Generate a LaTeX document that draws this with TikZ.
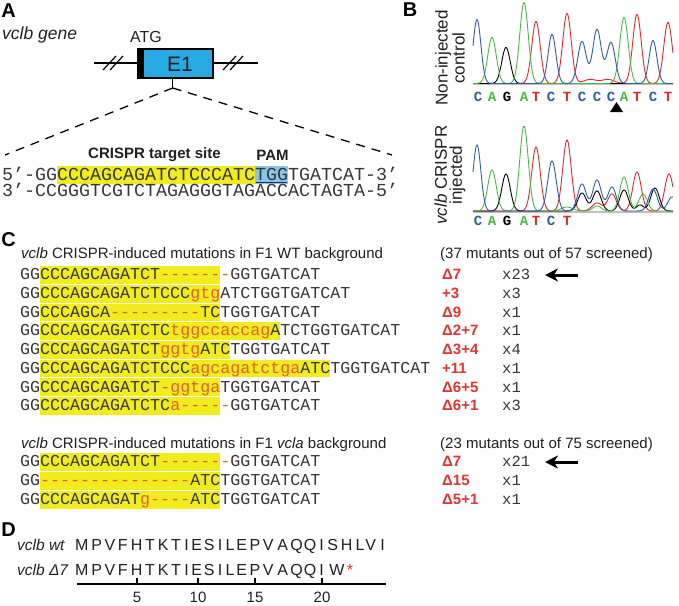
\documentclass[tikz,border=0pt]{standalone}
\usepackage{fontspec}
\setmainfont{Liberation Sans}
\newfontfamily\monofam{Liberation Mono}
\usetikzlibrary{arrows.meta}
\definecolor{hlyellow}{RGB}{240,236,30}
\definecolor{pamblue}{RGB}{140,196,232}
\definecolor{pamline}{RGB}{30,45,80}
\definecolor{exonblue}{RGB}{38,170,225}
\definecolor{seqgray}{RGB}{55,55,55}
\definecolor{txtgray}{RGB}{35,31,32}
\definecolor{insred}{RGB}{232,95,45}
\definecolor{labred}{RGB}{226,52,48}
\definecolor{trblue}{RGB}{50,90,170}
\definecolor{trgreen}{RGB}{75,185,70}
\definecolor{trred}{RGB}{225,40,40}
\newcommand\rd[1]{\textcolor{insred}{#1}}
\newcommand\hy{-\kern0pt }
\begin{document}
\begin{tikzpicture}[x=1pt,y=-1pt,
  declare function={gp(\pa,\pc,\pw)=exp(-min(((\pa-\pc)/\pw)^2,9));},
  panel/.style={font=\fontsize{20}{20}\selectfont\bfseries, text=black, inner sep=0pt},
  seqtxt/.style={font=\monofam\fontsize{16.67}{18}\selectfont, text=seqgray, inner sep=0pt, anchor=base west},
  seqA/.style={font=\monofam\fontsize{18.33}{20}\selectfont, text=seqgray, inner sep=0pt, anchor=base west, text height=10pt, text depth=0pt},
  hdr/.style={font=\fontsize{15}{18}\selectfont, text=txtgray, inner sep=0pt, anchor=base west},
  mut/.style={font=\fontsize{15}{18}\selectfont\bfseries, text=labred, inner sep=0pt, anchor=base west},
  cnt/.style={font=\monofam\fontsize{15.5}{18}\selectfont, text=seqgray, inner sep=0pt, anchor=base west},
  bigarrow/.style={line width=3pt, -{Stealth[length=13pt,width=13pt]}},
  trace/.style={line width=0.9pt},
  chrom/.style={font=\monofam\fontsize{14}{16}\selectfont\bfseries, inner sep=0pt, anchor=base},
  sidelab/.style={font=\fontsize{17}{15}\selectfont, text=txtgray, rotate=90, align=center, inner sep=0pt},
  aa/.style={font=\fontsize{16}{18}\selectfont, text=txtgray, inner sep=0pt, anchor=base},
  dlab/.style={font=\fontsize{15.5}{18}\selectfont\itshape, text=txtgray, inner sep=0pt, anchor=base west},
  guide/.style={line width=1.3pt, dash pattern=on 9pt off 7pt}
]
\useasboundingbox (0,0) rectangle (679,605);
\fill[white] (0,0) rectangle (679,605);

% ---------------- Panel A ----------------
\node[panel] (labA) at (8.5,11) {A};
\node[font=\fontsize{17.5}{20}\selectfont\itshape, text=txtgray, anchor=west, inner sep=0pt] (gene) at (2,35) {vclb gene};
\node[font=\fontsize{16}{18}\selectfont, text=txtgray, inner sep=0pt] (atg) at (146,37) {ATG};
\coordinate (gl) at (94,63);
\coordinate (gr) at (258,63);
\draw[line width=1.3pt] (gl) -- (gr);
\draw[line width=1.2pt] (103,70)--(116,56) (110,70)--(123,56);
\draw[line width=1.2pt] (223,70)--(236,56) (230,70)--(243,56);
\node[fill=exonblue, minimum width=75pt, minimum height=29pt, inner sep=0pt] (e1) at (175.5,63.5) {};
\fill (e1.north west) rectangle ([xshift=6.5pt]e1.south west);
\draw[line width=1.5pt] (e1.north west) rectangle (e1.south east);
\node[font=\fontsize{21}{24}\selectfont, text=txtgray, inner sep=0pt] (e1lab) at (180,64) {E1};
\coordinate (fork) at (172.7,88);
\coordinate (dl) at (5,155);
\coordinate (dr) at (392,155);
\draw[line width=1.3pt] (fork |- e1.south) -- (fork);
\draw[guide] (fork) -- (dl);
\draw[guide] (fork) -- (dr);
\node[font=\fontsize{15}{18}\selectfont\bfseries, text=txtgray, inner sep=0pt] (tsite) at (154.5,155) {CRISPR target site};
\node[font=\fontsize{15}{18}\selectfont\bfseries, text=txtgray, inner sep=0pt] (pam) at (272.5,155) {PAM};
\fill[hlyellow] (57,166) rectangle (255,184);
\fill[pamblue] (255,166) rectangle (288,184);
\draw[pamline, line width=1.5pt] (256,182.3) -- (287,182.3);
\node[seqA] (s5) at (2,180.5) {5’\hy GGCCCAGCAGATCTCCCATCTGGTGATCAT\hy 3’};
\node[seqA] (s3) at (2,196) {3’\hy CCGGGTCGTCTAGAGGGTAGACCACTAGTA\hy 5’};

% ---------------- Panel B ----------------
\node[panel] (labB) at (410,10) {B};
\node[sidelab] (sl1) at (450,58) {Non-injected\\control};
\node[sidelab] (sl2) at (450,175) {\textit{vclb} CRISPR\\injected};
\draw[black!25, line width=1.5pt] (473,84.5) -- (673,84.5);
\draw[black!25, line width=1.5pt] (473,212) -- (673,212);
% top trace
\draw[trace, trred] plot[domain=473:673, samples=301] (\x, {83.5-(62*gp(\x,536,6)+70*gp(\x,567,6)+69*gp(\x,637,6)+61*gp(\x,668,6)+4*gp(\x,590,9)+4*gp(\x,608,9))});
\draw[trace, black] plot[domain=473:673, samples=301] (\x, {83.5-(36*gp(\x,506,6))});
\draw[trace, trgreen] plot[domain=473:673, samples=301] (\x, {83.5-(46*gp(\x,492,6)+81*gp(\x,524,6)+66*gp(\x,624,6))});
\draw[trace, trblue] plot[domain=473:673, samples=301] (\x, {83.5-(64*gp(\x,477,5.5)+49*gp(\x,552,5.5)+42*gp(\x,582,6)+54*gp(\x,597,6)+41*gp(\x,611,6)+43*gp(\x,653,5.5))});
% bottom trace
\draw[trace, trred] plot[domain=473:673, samples=301] (\x, {211-(64*gp(\x,536,6)+71*gp(\x,567,6)+8*gp(\x,597,7)+17*gp(\x,612,6)+39*gp(\x,637,6)+37*gp(\x,669,6))});
\draw[trace, black] plot[domain=473:673, samples=301] (\x, {211-(37*gp(\x,506,6)+18*gp(\x,582,6)+20*gp(\x,597,6)+6*gp(\x,640,5)+21*gp(\x,624,6)+23*gp(\x,655,6))});
\draw[trace, trgreen] plot[domain=473:673, samples=301] (\x, {211-(41*gp(\x,492,6)+85*gp(\x,524,6)+4*gp(\x,567,8)+5*gp(\x,597,6)+34*gp(\x,624,6)+17*gp(\x,643,6))});
\draw[trace, trblue] plot[domain=473:673, samples=301] (\x, {211-(66*gp(\x,477,5.5)+50*gp(\x,552,6)+27*gp(\x,582,6)+31*gp(\x,597,6)+24*gp(\x,612,6)+22*gp(\x,653,6)+14*gp(\x,672,6))});
\foreach \xx/\ll/\cc [count=\i] in {478/C/trblue,492/A/trgreen,507/G/black,524/A/trgreen,536/T/trred,551/C/trblue,567/T/trred,582/C/trblue,597/C/trblue,611/C/trblue,624/A/trgreen,637/T/trred,653/C/trblue,668/T/trred}
  \node[chrom, text=\cc] (tb\i) at (\xx,101) {\ll};
\foreach \xx/\ll/\cc [count=\i] in {478/C/trblue,492/A/trgreen,507/G/black,524/A/trgreen,536/T/trred,551/C/trblue,567/T/trred}
  \node[chrom, text=\cc] (bb\i) at (\xx,225) {\ll};
\fill (610,112) -- (623,112) -- (616.5,102) -- cycle;

% ---------------- Panel C ----------------
\node[panel] (labC) at (8.5,240) {C};
\node[hdr] (h1) at (21,258.5) {\textit{vclb} CRISPR-induced mutations in F1 WT background};
\node[hdr] (n1) at (440,258.5) {(37 mutants out of 57 screened)};
\fill[hlyellow] (40,266.1) rectangle (220,283.9);
\fill[hlyellow] (40,284.8) rectangle (220,302.6);
\fill[hlyellow] (40,303.5) rectangle (220,321.3);
\fill[hlyellow] (40,322.2) rectangle (280,340.0);
\fill[hlyellow] (40,340.9) rectangle (230,358.7);
\fill[hlyellow] (40,359.6) rectangle (330,377.4);
\fill[hlyellow] (40,378.3) rectangle (220,396.1);
\fill[hlyellow] (40,397.0) rectangle (220,414.8);
\node[seqtxt] (r1) at (20,279.8) {GGCCCAGCAGATCT\rd{\hy\hy\hy\hy\hy\hy\hy}GGTGATCAT};
\node[seqtxt] (r2) at (20,298.5) {GGCCCAGCAGATCTCCC\rd{gtg}ATCTGGTGATCAT};
\node[seqtxt] (r3) at (20,317.2) {GGCCCAGCA\rd{\hy\hy\hy\hy\hy\hy\hy\hy\hy}TCTGGTGATCAT};
\node[seqtxt] (r4) at (20,335.9) {GGCCCAGCAGATCTC\rd{tggccaccag}ATCTGGTGATCAT};
\node[seqtxt] (r5) at (20,354.6) {GGCCCAGCAGATCT\rd{ggtg}ATCTGGTGATCAT};
\node[seqtxt] (r6) at (20,373.3) {GGCCCAGCAGATCTCCC\rd{agcagatctga}ATCTGGTGATCAT};
\node[seqtxt] (r7) at (20,392.0) {GGCCCAGCAGATCT\rd{\hy ggtga}TGGTGATCAT};
\node[seqtxt] (r8) at (20,410.7) {GGCCCAGCAGATCTC\rd{a\hy\hy\hy\hy\hy}GGTGATCAT};
\foreach \yy/\mm/\nn [count=\i] in {279.8/Δ7/x23, 298.5/+3/x3, 317.2/Δ9/x1, 335.9/Δ2+7/x1, 354.6/Δ3+4/x4, 373.3/+11/x1, 392.0/Δ6+5/x1, 410.7/Δ6+1/x3}{
  \node[mut] (m\i) at (442,\yy) {\mm};
  \node[cnt] (c\i) at (502,\yy) {\nn};
}
\coordinate (a1s) at (578,275);
\coordinate (a1e) at (545,275);
\draw[bigarrow] (a1s) -- (a1e);
% group 2
\node[hdr] (h2) at (21,448.5) {\textit{vclb} CRISPR-induced mutations in F1 \textit{vcla} background};
\node[hdr] (n2) at (440,448.5) {(23 mutants out of 75 screened)};
\fill[hlyellow] (40,453.1) rectangle (220,470.9);
\fill[hlyellow] (40,472.1) rectangle (220,489.9);
\fill[hlyellow] (40,491.1) rectangle (220,508.9);
\node[seqtxt] (g1) at (20,466.8) {GGCCCAGCAGATCT\rd{\hy\hy\hy\hy\hy\hy\hy}GGTGATCAT};
\node[seqtxt] (g2) at (20,485.8) {GG\rd{\hy\hy\hy\hy\hy\hy\hy\hy\hy\hy\hy\hy\hy\hy\hy}ATCTGGTGATCAT};
\node[seqtxt] (g3) at (20,504.8) {GGCCCAGCAGAT\rd{g\hy\hy\hy\hy}ATCTGGTGATCAT};
\foreach \yy/\mm/\nn [count=\i] in {466.8/Δ7/x21, 485.8/Δ15/x1, 504.8/Δ5+1/x1}{
  \node[mut] (mm\i) at (442,\yy) {\mm};
  \node[cnt] (cc\i) at (502,\yy) {\nn};
}
\coordinate (a2s) at (578,462);
\coordinate (a2e) at (545,462);
\draw[bigarrow] (a2s) -- (a2e);

% ---------------- Panel D ----------------
\node[panel] (labD) at (8.5,530) {D};
\node[dlab] (dwt) at (17,550.4) {vclb wt};
\node[dlab] (dmu) at (17,575.4) {vclb Δ7};
\foreach \xx/\ll [count=\i] in {81.7/M,96.7/P,110/V,122.7/F,136.7/H,150/T,163.3/K,176/T,186.7/I,196.7/E,209.3/S,220/I,230/L,241.7/E,255/P,268.3/V,282.7/A,296.7/Q,310/Q,321.7/I,332.7/S,346.7/H,360/L,370.7/V,382.7/I}
  \node[aa] (w\i) at (\xx,550.4) {\ll};
\foreach \xx/\ll [count=\i] in {81.7/M,96.7/P,110/V,122.7/F,136.7/H,150/T,163.3/K,176/T,186.7/I,196.7/E,209.3/S,220/I,230/L,241.7/E,255/P,268.3/V,282.7/A,296.7/Q,310/Q,321.7/I,337/W}
  \node[aa] (u\i) at (\xx,575.4) {\ll};
\node[aa, text=labred] (stop) at (350,575.4) {*};
\coordinate (axl) at (77,584);
\coordinate (axr) at (386,584);
\draw[line width=1.5pt] (axl) -- (axr);
\foreach \xx/\nn in {137/5,198/10,255/15,322/20}{
  \draw[line width=1.3pt] (\xx,584) -- (\xx,578);
  \node[aa, font=\fontsize{15}{18}\selectfont] (t\nn) at (\xx,602) {\nn};
}
\end{tikzpicture}
\end{document}
